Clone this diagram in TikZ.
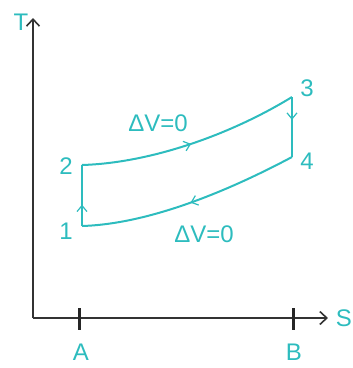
\documentclass[tikz,border=0pt]{standalone}
\usepackage{fontspec}
\setmainfont{Liberation Sans}
\usetikzlibrary{arrows.meta, decorations.markings}

\definecolor{cyc}{RGB}{45,188,190}

\begin{document}
\begin{tikzpicture}[
          x=1pt, y=-1pt,
          axis/.style={line width=2pt, black!80},
          tick/.style={line width=3pt, black!85},
          curve/.style={line width=2pt, cyc},
          lbl/.style={text=cyc, font=\fontsize{24}{24}\selectfont, inner sep=0pt},
          midarrow/.style={postaction={decorate, decoration={markings,
            mark=at position #1 with {\arrow{Straight Barb[length=6pt, width=10pt, line width=1.2pt]}}}}}
        ]
          \useasboundingbox (0,0) rectangle (353,368);

          % axes
          \coordinate (O) at (33,318);
          \coordinate (Ttip) at (33,18);
          \coordinate (Stip) at (328,318);
          \draw[axis, -{Straight Barb[length=7pt, width=13pt, line width=1.6pt]}] (O) -- (Ttip);
          \draw[axis, -{Straight Barb[length=7pt, width=13pt, line width=1.6pt]}] (O) -- (Stip);
          \node[lbl] (T) at (21,22) {T};
          \node[lbl] (S) at (344,318) {S};

          % ticks on S axis
          \coordinate (Atop) at (80,308);
          \coordinate (Abot) at (80,330);
          \coordinate (Btop) at (294,308);
          \coordinate (Bbot) at (294,330);
          \draw[tick] (Atop) -- (Abot);
          \draw[tick] (Btop) -- (Bbot);
          \node[lbl] (A) at (81,352) {A};
          \node[lbl] (B) at (294,352) {B};

          % cycle corners
          \coordinate (p1) at (82,226);
          \coordinate (p2) at (82,165);
          \coordinate (p3) at (292,97);
          \coordinate (p4) at (292,157);

          % cycle
          \draw[curve, midarrow=0.35] (p1) -- (p2);
          \draw[curve, midarrow=0.5] (p2) .. controls (150,163) and (230,135) .. (p3);
          \draw[curve, midarrow=0.38] (p3) -- (p4);
          \draw[curve, midarrow=0.5] (p4) .. controls (230,190) and (150,224) .. (p1);

          % corner labels
          \node[lbl] (n1) at (66,231) {1};
          \node[lbl] (n2) at (66,166) {2};
          \node[lbl] (n3) at (307,88) {3};
          \node[lbl] (n4) at (307,161) {4};

          % isochore labels
          \node[lbl] (dvtop) at (158,123) {ΔV=0};
          \node[lbl] (dvbot) at (204,234) {ΔV=0};
\end{tikzpicture}
\end{document}
